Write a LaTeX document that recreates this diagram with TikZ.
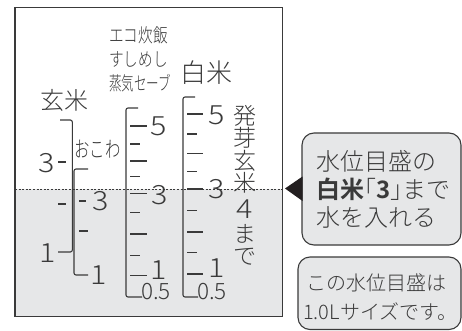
\documentclass[tikz,border=0pt]{standalone}
\usepackage{fontspec}
\usepackage{graphicx}
\IfFontExistsTF{Noto Sans CJK JP Light}
  {\setmainfont{Noto Sans CJK JP Light}[BoldFont={Noto Sans CJK JP Bold}]}
  {\setmainfont{Noto Sans CJK JP}}
\definecolor{ln}{HTML}{3A3A3A}
\definecolor{wat}{HTML}{E6E7E8}
\definecolor{tri}{HTML}{231F20}
\newcommand\dgt[1]{\scalebox{1.15}[1]{#1}}
\tikzset{
  sc/.style={draw=ln, line width=1.1pt, rounded corners=2pt},
  tk/.style={draw=ln, line width=1.1pt},
  big/.style={inner sep=0pt, text=ln, font=\fontsize{24}{24}\selectfont},
  vt/.style={inner sep=0pt, text=ln, font=\fontsize{23}{23}\selectfont},
  num/.style={inner sep=0pt, text=ln, font=\fontsize{26.5}{26.5}\selectfont},
  half/.style={inner sep=0pt, text=ln, font=\fontsize{22.5}{22.5}\selectfont},
  mid/.style={inner sep=0pt, text=ln, font=\fontsize{19}{19}\selectfont, anchor=west},
  note/.style={inner sep=0pt, text=ln, font=\fontsize{20}{20}\selectfont, anchor=west},
  call/.style={draw=ln, line width=1.1pt, fill=wat, rounded corners=12pt},
}
\begin{document}
\begin{tikzpicture}[x=1pt,y=-1pt]
\useasboundingbox (0,0) rectangle (462,331);
% water area and tank
\fill[wat] (15,189) rectangle (282.5,316.5);
\draw[ln, line width=0.8pt, dash pattern=on 2pt off 1.6pt] (15,189) -- (283,189);
\draw[ln, line width=1.4pt] (15,7.5) rectangle (282.5,316.5);
% headings
\node[big] (genmai) at (64,100) {玄米};
\node[mid] (eco1) at (109,35) {\scalebox{0.77}[1]{エコ炊飯}};
\node[mid] (eco2) at (109,59) {\scalebox{0.77}[1]{すしめし}};
\node[mid] (eco3) at (109,83) {\scalebox{0.66}[1]{蒸気セーブ}};
\node[inner sep=0pt, text=ln, font=\fontsize{26}{26}\selectfont] (hakumai) at (206,73) {白米};
\node[inner sep=0pt, text=ln, font=\fontsize{22}{22}\selectfont] (okowa) at (97.5,149) {\scalebox{0.7}[1]{おこわ}};
% scale 1 (genmai)
\draw[sc] (60,120) -- (72.3,120) -- (72.3,252) -- (58,252);
\draw[tk] (58,162) -- (66,162);
\draw[tk] (58,204) -- (66,204);
\node[num] (g3) at (46.5,163) {\dgt{3}};
\node[num] (g1) at (48,253) {\dgt{1}};
% scale 1b (okowa)
\draw[sc] (88,169) -- (74,169) -- (74,275) -- (88,275);
\draw[tk] (79,201) -- (86,201);
\draw[tk] (79,231) -- (88,231);
\node[num] (o3) at (101,201) {\dgt{3}};
\node[num] (o1) at (99,275) {\dgt{1}};
% scale 2 (eco)
\draw[sc] (138,108) -- (126,108) -- (126,297) -- (142,297);
\foreach \y in {126,161,193.5,234,275.5} \draw[tk] (130,\y) -- (147,\y);
\foreach \y in {144,176.5,212.5,255.5} \draw[tk] (130,\y) -- (140,\y);
\node[num] (e5) at (158.5,126) {\dgt{5}};
\node[num] (e3) at (160,195) {\dgt{3}};
\node[num] (e1) at (158.5,270) {\dgt{1}};
\node[half] (e05) at (156,292) {0.5};
% scale 3 (hakumai)
\draw[sc] (195,97) -- (183,97) -- (183,297) -- (198,297);
\foreach \y in {114,153.5,189,232,274} \draw[tk] (187,\y) -- (203,\y);
\foreach \y in {134,171.5,210.5,252.5} \draw[tk] (187,\y) -- (197,\y);
\node[num] (h5) at (217,115) {\dgt{5}};
\node[num] (h3) at (217,189) {\dgt{3}};
\node[num] (h1) at (216.5,268) {\dgt{1}};
\node[half] (h05) at (212,292) {0.5};
% vertical text
\node[vt] (v1) at (245,116) {発};
\node[vt] (v2) at (245,138) {芽};
\node[vt] (v3) at (245,161) {玄};
\node[vt] (v4) at (245,183) {米};
\node[num] (v5) at (245,209) {\dgt{4}};
\node[vt] (v6) at (245,234) {ま};
\node[vt] (v7) at (245,257) {で};
% callout 1
\draw[call] (302,133) rectangle (461,245);
\coordinate (tip) at (285,188.5);
\fill[tri] (tip) -- (302.5,176.5) -- (302.5,201) -- cycle;
\node[big, anchor=west] (c1) at (316,161) {水位目盛の};
\node[big, anchor=west] (c2) at (316,189) {\textbf{白米}｢\textbf{3}｣まで};
\node[big, anchor=west] (c3) at (316,217) {水を入れる};
% callout 2
\draw[call] (298,257) rectangle (461,329.5);
\node[note] (n1) at (306,283) {この水位目盛は};
\node[note] (n2) at (303,312) {1.0Lサイズです。};
\end{tikzpicture}
\end{document}
